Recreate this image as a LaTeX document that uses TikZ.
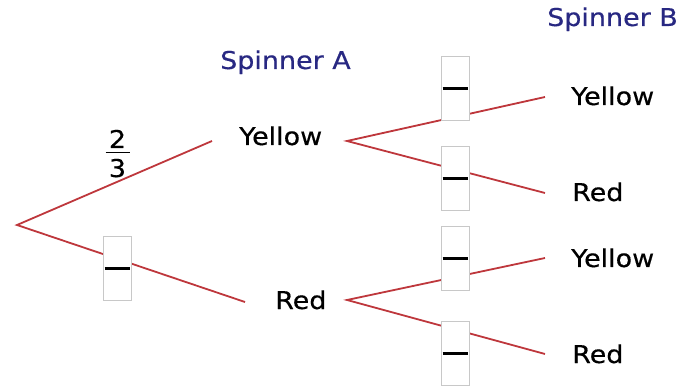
\documentclass[tikz,border=0pt]{standalone}
\usepackage{fontspec}
\setmainfont[FakeStretch=1.1,FakeBold=0.4]{DejaVu Sans}
\definecolor{branch}{RGB}{190,55,60}
\definecolor{spin}{RGB}{40,40,130}
\definecolor{boxgray}{RGB}{200,200,200}
\begin{document}
\begin{tikzpicture}[x=1pt,y=-1pt,
  lbl/.style={anchor=base west,inner sep=0pt,font=\fontsize{24.5}{27}\selectfont},
  head/.style={lbl,text=spin},
  branchline/.style={draw=branch,line width=1.8pt},
  ansbox/.style={draw=boxgray,fill=white,line width=1pt,minimum width=28pt,minimum height=64pt,inner sep=0pt},
  ansbar/.style={line width=2.6pt,black}]
\useasboundingbox (0,0) rectangle (685,387);
% headings
\node[head] (spA) at (220,69) {Spinner A};
\node[head] (spB) at (547,26) {Spinner B};
% coordinates
\coordinate (root) at (17,225);
\coordinate (aY) at (212,141);
\coordinate (aR) at (245,302);
\coordinate (yS) at (347,141);
\coordinate (rS) at (347,300);
\coordinate (yY) at (545,97);
\coordinate (yR) at (545,193);
\coordinate (rY) at (545,258);
\coordinate (rR) at (545,354);
% branches
\draw[branchline] (aY) -- (root) -- (aR);
\draw[branchline] (yY) -- (yS) -- (yR);
\draw[branchline] (rY) -- (rS) -- (rR);
% labels
\node[lbl] (tAY) at (239,145) {Yellow};
\node[lbl] (tAR) at (275,309) {Red};
\node[lbl] (tYY) at (571,105) {Yellow};
\node[lbl] (tYR) at (572,201) {Red};
\node[lbl] (tRY) at (571,267) {Yellow};
\node[lbl] (tRR) at (572,363) {Red};
% fraction 2/3
\node[lbl,anchor=base] (num) at (117.5,148) {2};
\node[lbl,anchor=base] (den) at (117.5,177) {3};
\draw[line width=1.6pt] (105.5,152.5) -- (129.5,152.5);
% answer boxes
\foreach \n/\x/\y in {b0/117/268.5, b1/455/88.5, b2/455/178.5, b3/455/258.5, b4/455/353.5}{
  \node[ansbox] (\n) at (\x,\y) {};
  \draw[ansbar] ([xshift=2pt]\n.west) -- ([xshift=-2pt]\n.east);
}
\end{tikzpicture}
\end{document}
